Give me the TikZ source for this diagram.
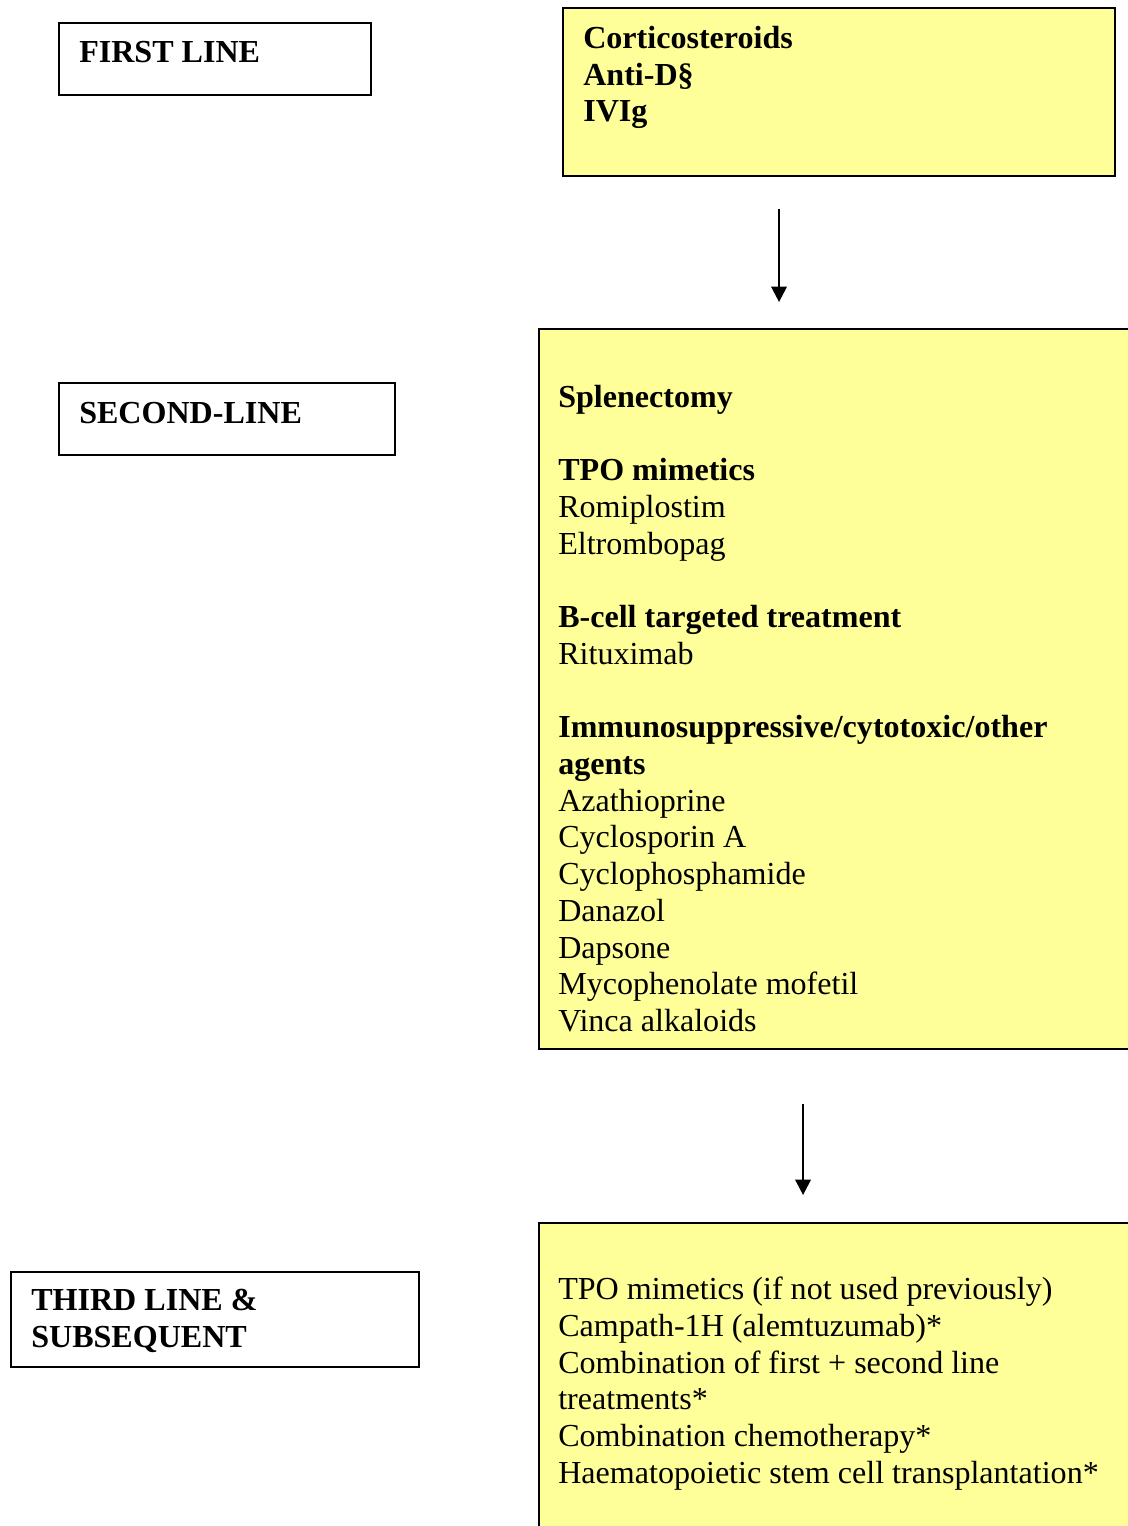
\documentclass[tikz,border=0pt]{standalone}
\usepackage{fontspec}
\setmainfont{Liberation Serif}
\usepackage{xcolor}
\usetikzlibrary{positioning, arrows.meta, calc}
\definecolor{boxyellow}{HTML}{FFFF99}
\newcommand{\txtsize}{\fontsize{22.8pt}{26.1pt}\selectfont}

\begin{document}
\begin{tikzpicture}[x=0.025cm, y=-0.025cm,
  frame/.style={draw, line width=1.4pt, inner sep=0pt, anchor=north west},
  drugbox/.style={frame, fill=boxyellow},
  txt/.style={inner sep=0pt, anchor=north west, align=left, font=\txtsize},
  arr/.style={-{Triangle[width=11pt,length=11pt]}, line width=1.7pt}]
  \useasboundingbox (0,0) rectangle (1128,1526);

  % Linhas de tratamento (esquerda)
  \node[frame, minimum width=7.8cm, minimum height=1.8cm] (lab1) at (58,22) {};
  \node[txt] (lab1txt) at ([shift={(0.525cm,-0.475cm)}]lab1.north west) {\textbf{FIRST LINE}};

  \node[frame, minimum width=8.4cm, minimum height=1.8cm] (lab2) at (58,382) {};
  \node[txt] (lab2txt) at ([shift={(0.525cm,-0.5cm)}]lab2.north west) {\textbf{SECOND-LINE}};

  \node[frame, minimum width=10.2cm, minimum height=2.375cm] (lab3) at (10,1271) {};
  \node[txt] (lab3txt) at ([shift={(0.525cm,-0.45cm)}]lab3.north west)
    {\textbf{THIRD LINE \&}\\ \textbf{SUBSEQUENT}};

  % Caixas amarelas (direita)
  \node[drugbox, minimum width=13.8cm, minimum height=4.2cm] (box1) at (562,7) {};
  \node[txt] (box1txt) at ([shift={(0.525cm,-0.475cm)}]box1.north west)
    {\textbf{Corticosteroids}\\ \textbf{Anti-D\S}\\ \textbf{IVIg}};

  \node[drugbox, minimum width=15.05cm, minimum height=18cm] (box2) at (538,328) {};
  \node[txt] (box2txt) at ([shift={(0.5cm,-1.425cm)}]box2.north west)
    {\textbf{Splenectomy}\\[26.1pt]
     \textbf{TPO mimetics}\\
     Romiplostim\\
     Eltrombopag\\[26.1pt]
     \textbf{B-cell targeted treatment}\\
     Rituximab\\[26.1pt]
     \textbf{Immunosuppressive/cytotoxic/other}\\
     \textbf{agents}\\
     Azathioprine\\
     Cyclosporin A\\
     Cyclophosphamide\\
     Danazol\\
     Dapsone\\
     Mycophenolate mofetil\\
     Vinca alkaloids};

  \node[drugbox, minimum width=15.05cm, minimum height=7.95cm] (box3) at (538,1222) {};
  \node[txt] (box3txt) at ([shift={(0.5cm,-1.375cm)}]box3.north west)
    {TPO mimetics (if not used previously)\\
     Campath-1H (alemtuzumab)*\\
     Combination of first + second line\\
     treatments*\\
     Combination chemotherapy*\\
     Haematopoietic stem cell transplantation*};

  % Setas
  \draw[arr, shorten <=0.8cm, shorten >=0.65cm]
    ([xshift=-1.5cm]box1.south) -- ([xshift=-1.5cm]box1.south |- box2.north);
  \draw[arr, shorten <=1.35cm, shorten >=0.675cm]
    ([xshift=-0.925cm]box2.south) -- ([xshift=-0.925cm]box2.south |- box3.north);
\end{tikzpicture}
\end{document}
